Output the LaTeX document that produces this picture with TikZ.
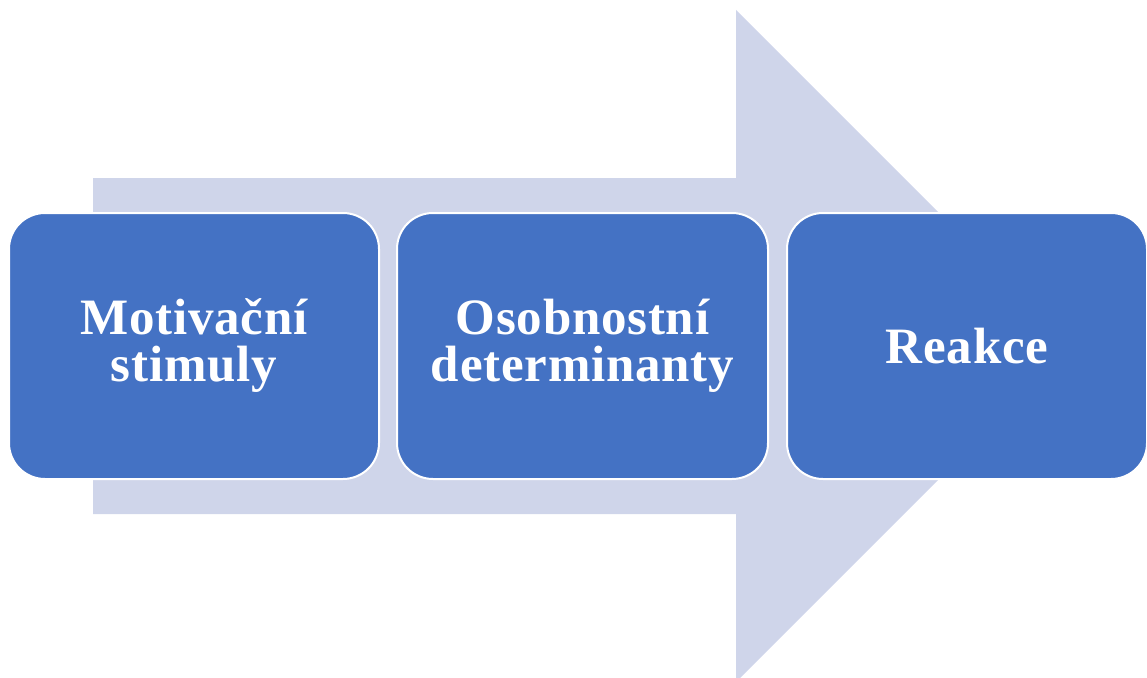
\documentclass[tikz,border=0pt]{standalone}
\usepackage{fontspec}
\setmainfont{Liberation Serif}
\newfontfamily\stagefont[LetterSpace=1.5]{Liberation Serif}
\definecolor{boxblue}{HTML}{4472C4}
\definecolor{arrowbg}{HTML}{CFD5EA}
\begin{document}
\begin{tikzpicture}[x=1pt,y=-1pt,
  stage/.style={rectangle, rounded corners=36pt, fill=boxblue, draw=white, line width=2pt,
    minimum height=266pt, inner sep=0pt, align=center, text=white,
    font=\stagefont\fontsize{51}{47}\selectfont\bfseries}]
\useasboundingbox (0,0) rectangle (1147,677);
\clip (0,0) rectangle (1147,677);
\fill[arrowbg] (93,178) -- (736,178) -- (736,10) -- (1072,346) -- (736,682) -- (736,514) -- (93,514) -- cycle;
\node[stage, minimum width=370pt] (s1) at (194,346) {Motivační\\stimuly};
\node[stage, minimum width=371pt] (s2) at (582.5,346) {Osobnostní\\determinanty};
\node[stage, minimum width=360pt] (s3) at (967,346) {Reakce};
\end{tikzpicture}
\end{document}
